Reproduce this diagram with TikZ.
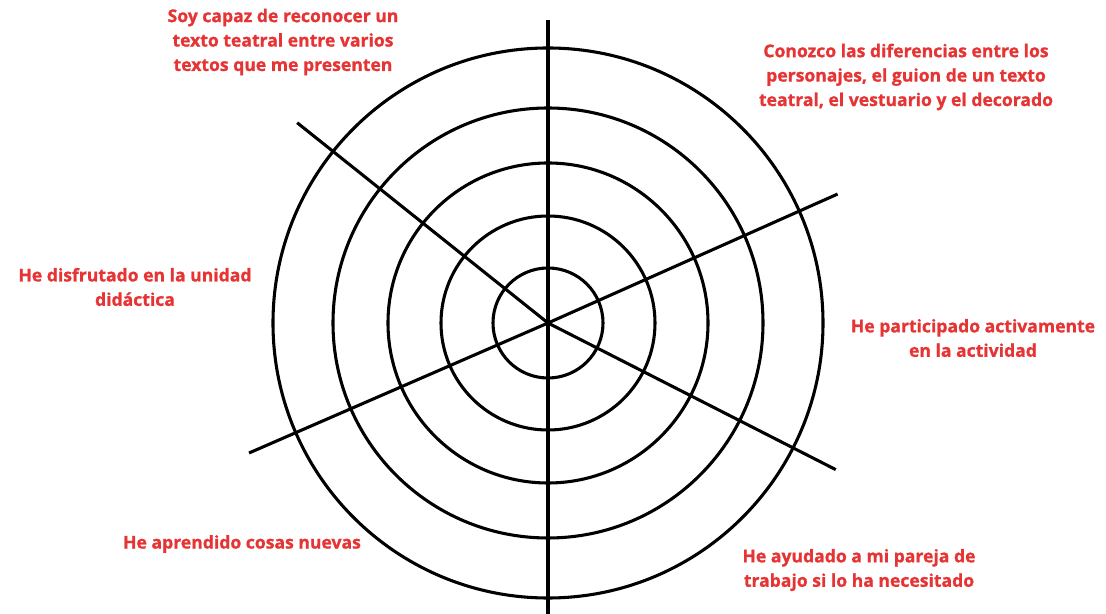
\documentclass[tikz,border=0pt]{standalone}
\usepackage{fontspec}
\setmainfont{Open Sans}[BoldFeatures={FakeBold=1}]
\usepackage{tikz}
\definecolor{labelred}{RGB}{230,52,52}
\tikzset{goal/.style={color=labelred, font=\fontsize{10}{13.9}\selectfont\bfseries, align=center}}

\begin{document}
\begin{tikzpicture}[line width=1.75pt]
	\useasboundingbox (-10.96,-5.82) rectangle (11.16,6.46);
	\coordinate (centre) at (0,0);
	
	% rings
	\foreach \r in {1.1,2.14,3.2,4.3,5.5}
		\draw (centre) circle (\r);
	
	% spokes
	\coordinate (top) at (0,6.06);
	\coordinate (bottom) at (0,-5.9);
	\draw (top) -- (bottom);
	\draw (centre) -- (24:6.34);
	\draw (centre) -- (203.5:6.52);
	\draw (centre) -- (141.4:6.42);
	\draw (centre) -- (-27:6.46);
	
	% labels top
	\node[goal] (reconocer) at (-5.3,5.62) {Soy capaz de reconocer un\\texto teatral entre varios\\textos que me presenten};
	\node[goal] (diferencias) at (7.16,4.92) {Conozco las diferencias entre los\\personajes, el guion de un texto\\teatral, el vestuario y el decorado};
	
	% labels middle
	\node[goal] (disfrutado) at (-8.26,0.72) {He disfrutado en la unidad\\did\'actica};
	\node[goal] (participado) at (8.5,-0.3) {He participado activamente\\en la actividad};
	
	% labels bottom
	\node[goal] (aprendido) at (-6.12,-4.42) {He aprendido cosas nuevas};
	\node[goal] (ayudado) at (6.22,-4.94) {He ayudado a mi pareja de\\trabajo si lo ha necesitado};
\end{tikzpicture}
\end{document}
